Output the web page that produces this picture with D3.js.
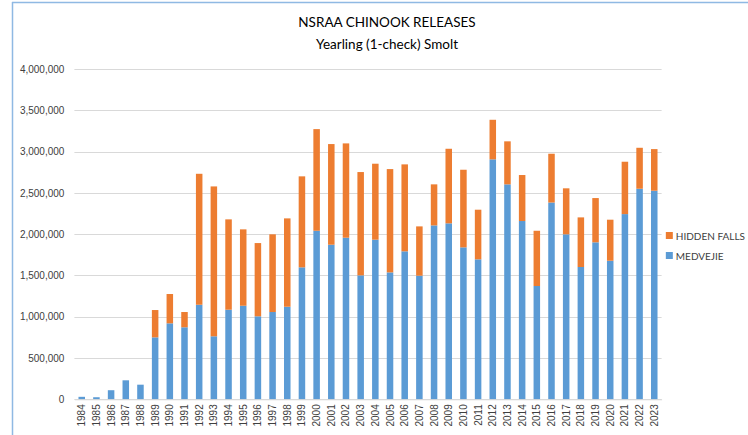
<!DOCTYPE html>
<html>
<head>
<meta charset="utf-8">
<script src="https://cdn.jsdelivr.net/npm/d3@7"></script>
<style>
  body { margin: 0; background: #fff; }
  text { font-family: "Liberation Sans", Arial, sans-serif; fill: #404040; }
</style>
</head>
<body>
<div id="chart"></div>
<script>
// years and release numbers
var years = d3.range(1984, 2024).map(String);
var medvejie = [30000, 25000, 110000, 230000, 177000, 750000, 920000, 872000, 1145000, 763000,
  1085000, 1133000, 1005000, 1057000, 1121000, 1598000, 2041000, 1872000, 1957000, 1501000,
  1933000, 1537000, 1792000, 1497000, 2106000, 2131000, 1840000, 1695000, 2906000, 2603000,
  2159000, 1372000, 2383000, 1998000, 1602000, 1901000, 1678000, 2243000, 2550000, 2526000];
var hiddenFalls = [0, 0, 0, 0, 0, 331000, 355000, 185000, 1586000, 1815000,
  1094000, 925000, 887000, 941000, 1070000, 1102000, 1231000, 1219000, 1142000, 1251000,
  920000, 1251000, 1053000, 597000, 497000, 903000, 940000, 601000, 479000, 521000,
  557000, 669000, 591000, 557000, 601000, 536000, 497000, 634000, 496000, 504000];
var yTicks = [0, 500000, 1000000, 1500000, 2000000, 2500000, 3000000, 3500000, 4000000];
var seriesNames = ["MEDVEJIE", "HIDDEN FALLS"];
var seriesColors = ["#5b9bd5", "#ed7d31"];

var width = 748, height = 435;
var margin = { left: 74.4, right: 86.4, top: 69, bottom: 35.7 };

var svg = d3.select("#chart").append("svg")
    .attr("width", width)
    .attr("height", height);

// chart frame (only left and top edges show)
svg.append("line").attr("x1", 12.5).attr("x2", 12.5).attr("y1", 2).attr("y2", height)
    .attr("stroke", "#8fb9e3").attr("stroke-width", 1.5);
svg.append("line").attr("x1", 12).attr("x2", width).attr("y1", 2.5).attr("y2", 2.5)
    .attr("stroke", "#8fb9e3").attr("stroke-width", 1.5);

// titles
svg.append("text").attr("x", 387).attr("y", 27).attr("text-anchor", "middle")
    .style("font-family", "Lato, sans-serif")
    .style("font-size", "13.5px").style("fill", "#000").text("NSRAA CHINOOK RELEASES");
svg.append("text").attr("x", 387).attr("y", 49).attr("text-anchor", "middle")
    .style("font-family", "Lato, sans-serif")
    .style("font-size", "13.5px").style("fill", "#000").text("Yearling (1-check) Smolt");

var x = d3.scaleBand()
    .domain(years)
    .range([margin.left, width - margin.right])
    .paddingInner(0.556)
    .paddingOuter(0.278);

var y = d3.scaleLinear()
    .domain([0, 4000000])
    .range([height - margin.bottom, margin.top]);

// gridlines
svg.append("g")
    .selectAll("line")
    .data(yTicks)
    .enter().append("line")
    .attr("x1", margin.left)
    .attr("x2", width - margin.right)
    .attr("y1", function(d) { return Math.round(y(d)) + 0.5; })
    .attr("y2", function(d) { return Math.round(y(d)) + 0.5; })
    .attr("stroke", "#d9d9d9")
    .attr("stroke-width", 1);

// y axis labels
var yAxis = d3.axisLeft(y).tickValues(yTicks).tickSize(0).tickPadding(10)
    .tickFormat(d3.format(","));
var gy = svg.append("g").attr("transform", "translate(" + margin.left + ",0)").call(yAxis);
gy.select(".domain").remove();
gy.selectAll("text").style("font-size", "10px").style("font-family", "Liberation Sans, Arial, sans-serif").style("fill", "#404040");

// stacked bars
var rows = years.map(function(yr, i) {
    return { year: yr, MEDVEJIE: medvejie[i], "HIDDEN FALLS": hiddenFalls[i] };
});
var stacked = d3.stack().keys(seriesNames)(rows);

svg.append("g")
    .selectAll("g")
    .data(stacked)
    .enter().append("g")
    .attr("fill", function(d, i) { return seriesColors[i]; })
    .selectAll("rect")
    .data(function(d) { return d; })
    .enter().append("rect")
    .attr("x", function(d) { return x(d.data.year); })
    .attr("width", x.bandwidth())
    .attr("y", function(d) { return y(d[1]); })
    .attr("height", function(d) { return Math.max(0, y(d[0]) - y(d[1])); });

// x axis
var xAxis = d3.axisBottom(x).tickSize(0).tickPadding(4);
var gx = svg.append("g").attr("transform", "translate(0," + (height - margin.bottom) + ")").call(xAxis);
gx.select(".domain").attr("stroke", "#d9d9d9");
gx.selectAll("text")
    .style("font-size", "10px")
    .style("font-family", "Liberation Sans, Arial, sans-serif")
    .style("fill", "#404040")
    .attr("text-anchor", "end")
    .attr("transform", "rotate(-90)")
    .attr("x", -5)
    .attr("y", 0)
    .attr("dy", "0.35em");

// legend
var legendItems = [
    { name: "HIDDEN FALLS", color: seriesColors[1] },
    { name: "MEDVEJIE", color: seriesColors[0] }
];
var legend = svg.append("g");
var items = legend.selectAll("g")
    .data(legendItems)
    .enter().append("g")
    .attr("transform", function(d, i) { return "translate(0," + (232 + i * 20) + ")"; });
items.append("rect").attr("width", 7).attr("height", 7).attr("fill", function(d) { return d.color; });
items.append("text").attr("x", 10).attr("y", 4).attr("dy", "0.35em")
    .style("font-size", "10px")
    .style("font-family", "Lato, sans-serif")
    .style("fill", "#404040")
    .text(function(d) { return d.name; });

// keep the longest legend label inside the window
var longest = d3.max(items.selectAll("text").nodes(), function(n) { return n.getComputedTextLength(); });
var legendX = Math.min(678, width - 3 - 10 - longest);
legend.attr("transform", "translate(" + legendX + ",0)");
</script>
</body>
</html>
